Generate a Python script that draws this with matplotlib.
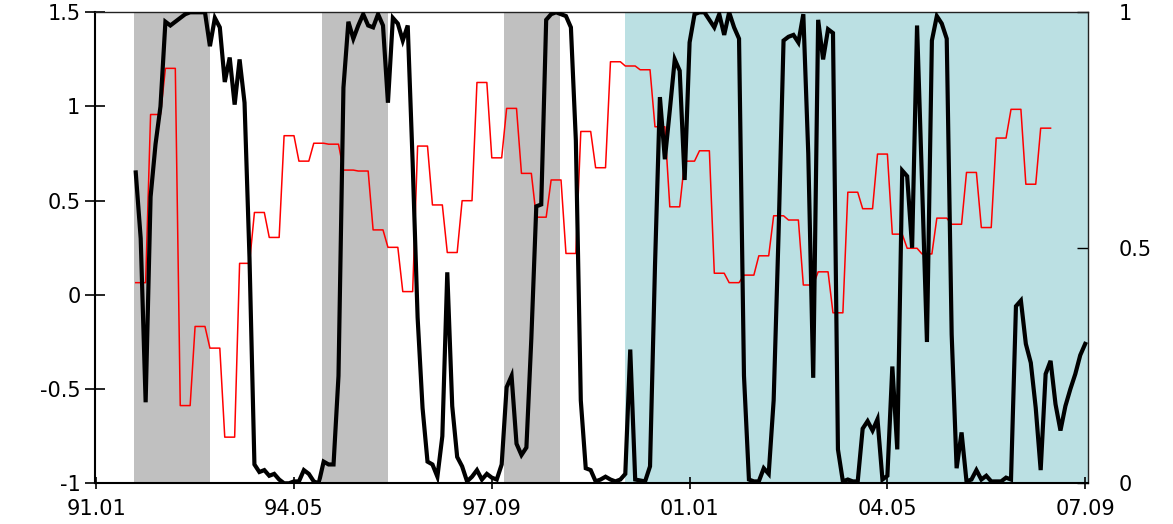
import numpy as np
import matplotlib
matplotlib.use("Agg")
import matplotlib.pyplot as plt

# ---- data (month index: 0 = 1991.01) ----
black_start = 8
black = [0.65, 0.30, -0.57, 0.52, 0.80, 1.00, 1.45, 1.43, 1.45, 1.47,
         1.49, 1.50, 1.50, 1.50, 1.50, 1.32, 1.47, 1.42, 1.13, 1.26,
         1.01, 1.25, 1.02, 0.20, -0.90, -0.94, -0.93, -0.96, -0.95, -0.98,
         -1.00, -1.00, -0.99, -0.99, -0.93, -0.95, -0.99, -1.00, -0.885, -0.90,
         -0.90, -0.43, 1.10, 1.45, 1.36, 1.43, 1.49, 1.43, 1.42, 1.49,
         1.43, 1.02, 1.47, 1.44, 1.35, 1.43, 0.70, -0.12, -0.60, -0.885,
         -0.90, -0.965, -0.75, 0.12, -0.59, -0.86, -0.91, -0.99, -0.965, -0.93,
         -0.98, -0.95, -0.97, -0.98, -0.90, -0.49, -0.43, -0.79, -0.85, -0.81,
         -0.23, 0.47, 0.48, 1.46, 1.49, 1.50, 1.49, 1.48, 1.42, 0.82,
         -0.56, -0.92, -0.93, -0.99, -0.98, -0.965, -0.98, -0.99, -0.98, -0.95,
         -0.29, -0.98, -0.985, -0.99, -0.91, 0.15, 1.05, 0.72, 0.98, 1.25,
         1.19, 0.61, 1.34, 1.49, 1.50, 1.50, 1.46, 1.42, 1.49, 1.38,
         1.50, 1.42, 1.36, -0.43, -0.98, -0.99, -0.99, -0.92, -0.95, -0.56,
         0.33, 1.35, 1.37, 1.38, 1.34, 1.49, 0.75, -0.44, 1.46, 1.25,
         1.41, 1.39, -0.82, -0.99, -0.98, -0.99, -0.99, -0.71, -0.67, -0.72,
         -0.66, -0.98, -0.96, -0.38, -0.82, 0.66, 0.63, 0.25, 1.43, 0.60,
         -0.25, 1.35, 1.48, 1.44, 1.36, -0.21, -0.92, -0.73, -0.99, -0.98,
         -0.93, -0.98, -0.96, -0.99, -0.99, -0.99, -0.97, -0.98, -0.06, -0.03,
         -0.26, -0.36, -0.60, -0.93, -0.42, -0.35, -0.58, -0.72, -0.59, -0.50,
         -0.42, -0.32, -0.26]

red_start = 8
red_quarterly = [0.426, 0.783, 0.881, 0.165, 0.333, 0.287, 0.098, 0.467, 0.575, 0.522,
                 0.738, 0.684, 0.722, 0.720, 0.665, 0.663, 0.538, 0.501, 0.407, 0.716,
                 0.591, 0.490, 0.600, 0.851, 0.691, 0.796, 0.658, 0.565, 0.644, 0.488,
                 0.747, 0.670, 0.895, 0.886, 0.878, 0.757, 0.587, 0.684, 0.706, 0.446,
                 0.426, 0.442, 0.483, 0.568, 0.559, 0.421, 0.449, 0.362, 0.618, 0.583,
                 0.699, 0.529, 0.499, 0.487, 0.563, 0.550, 0.660, 0.543, 0.733, 0.794,
                 0.635, 0.754]

gray_periods = [(7.65, 23.05), (45.7, 59.0), (82.5, 93.8)]
cyan_period = (107.0, 200.63)

xtick_pos = [0, 40, 80, 120, 160, 200]
xtick_labels = ["91.01", "94.05", "97.09", "01.01", "04.05", "07.09"]
left_ticks = [-1, -0.5, 0, 0.5, 1, 1.5]
left_labels = ["-1", "-0.5", "0", "0.5", "1", "1.5"]
right_ticks = [0, 0.5, 1]
right_labels = ["0", "0.5", "1"]

# ---- figure ----
plt.rcParams['font.family'] = ['DejaVu Sans']
fig = plt.figure(figsize=(11.73, 5.24), dpi=100)
ax = fig.add_axes([95 / 1173, 40.7 / 524, 993.3 / 1173, 471 / 524])
ax2 = ax.twinx()

# background layer: spans + red line on ax2, black line on ax in front
ax.set_zorder(ax2.get_zorder() + 1)
ax.patch.set_visible(False)

for a, b in gray_periods:
    ax2.axvspan(a, b, color="#C0C0C0", lw=0, zorder=0)
ax2.axvspan(cyan_period[0], cyan_period[1], color="#BBE0E3", lw=0, zorder=0)

red_vals = np.repeat(red_quarterly, 3)
red_x = np.arange(red_start, red_start + len(red_vals))
ax2.plot(red_x, red_vals, color="#FF0000", lw=1.1, zorder=2)

bx = np.arange(black_start, black_start + len(black))
ax.plot(bx, black, color="black", lw=3.0, zorder=3, solid_joinstyle="miter")

ax.set_xlim(-0.24, 200.63)
ax.set_ylim(-1, 1.5)
ax2.set_ylim(0, 1)

ax.set_xticks(xtick_pos)
ax.set_xticklabels(xtick_labels)
ax.set_yticks(left_ticks)
ax.set_yticklabels(left_labels)
ax2.set_yticks(right_ticks)
ax2.set_yticklabels(right_labels)

fs = 15
ax.tick_params(axis="y", direction="inout", length=15, width=1.2, pad=3, labelsize=fs)
ax.tick_params(axis="x", direction="inout", length=8, width=1.2, pad=7, labelsize=fs)
ax2.tick_params(axis="y", direction="in", length=8, width=1.0, pad=22, labelsize=fs)

for s in ["left", "bottom"]:
    ax.spines[s].set_linewidth(1.5)
    ax.spines[s].set_color("black")
ax.spines["top"].set_linewidth(1.0)
ax.spines["top"].set_color("#222222")
ax.spines["right"].set_visible(False)
for s in ["left", "top", "bottom"]:
    ax2.spines[s].set_visible(False)
ax2.spines["right"].set_linewidth(1.0)
ax2.spines["right"].set_color("#222222")

fig.savefig("out.png", dpi=100)
